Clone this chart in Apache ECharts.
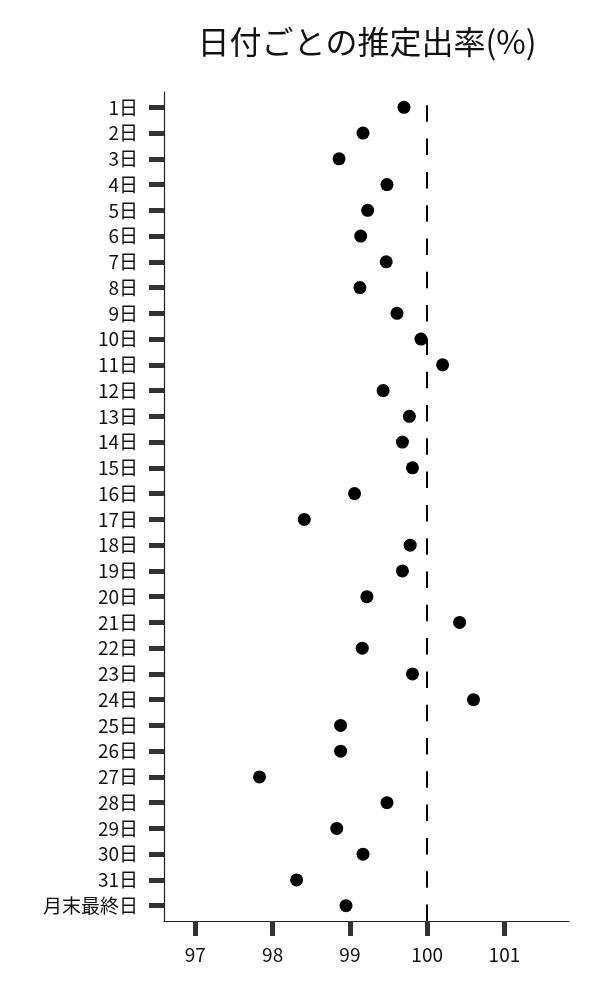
<!DOCTYPE html>
<html>
<head>
<meta charset="utf-8">
<script src="https://cdn.jsdelivr.net/npm/echarts@6/dist/echarts.min.js"></script>
<style>
html,body{margin:0;padding:0;background:#fff;}
#chart{width:600px;height:1000px;}
</style>
</head>
<body>
<div id="chart"></div>
<script>
const titleText = '日付ごとの推定出率(%)';
const categories = ['1日','2日','3日','4日','5日','6日','7日','8日','9日','10日',
  '11日','12日','13日','14日','15日','16日','17日','18日','19日','20日',
  '21日','22日','23日','24日','25日','26日','27日','28日','29日','30日','31日','月末最終日'];
const rates = [99.70, 99.17, 98.86, 99.48, 99.23, 99.14, 99.47, 99.13, 99.61, 99.92,
  100.20, 99.43, 99.77, 99.68, 99.81, 99.06, 98.41, 99.78, 99.68, 99.22,
  100.42, 99.16, 99.81, 100.60, 98.88, 98.88, 97.83, 99.48, 98.83, 99.17, 98.31, 98.95];
const xTicks = [97, 98, 99, 100, 101];
const referenceValue = 100;

const font = '"Noto Sans CJK JP", "Noto Sans", sans-serif';
const xMin = 96.594, xMax = 101.836;
const yMin = -0.594, yMax = categories.length - 1 + 0.594;
const catIdx = categories.map((c, i) => i);

const chart = echarts.init(document.getElementById('chart'), null, {renderer: 'canvas'});
chart.setOption({
  animation: false,
  backgroundColor: '#fff',
  title: {
    text: titleText,
    left: 362,
    top: 21,
    textAlign: 'center',
    textStyle: {fontFamily: font, fontSize: 32, fontWeight: 'normal', color: '#111'}
  },
  grid: {left: 164, right: 31, top: 92, bottom: 79, containLabel: false},
  xAxis: {
    type: 'value',
    min: xMin, max: xMax,
    splitLine: {show: false},
    axisLine: {show: true, onZero: false, lineStyle: {color: '#222', width: 1.2}},
    axisTick: {show: true, customValues: xTicks, length: 15, lineStyle: {color: '#333', width: 5}},
    axisLabel: {customValues: xTicks, margin: 24, fontFamily: font, fontSize: 19, color: '#111',
      formatter: v => String(v)}
  },
  yAxis: {
    type: 'value',
    inverse: true,
    min: yMin, max: yMax,
    splitLine: {show: false},
    axisLine: {show: true, onZero: false, lineStyle: {color: '#222', width: 1.2}},
    axisTick: {show: true, customValues: catIdx, length: 15, lineStyle: {color: '#333', width: 5}},
    axisLabel: {customValues: catIdx, margin: 26, fontFamily: font, fontSize: 19, color: '#111',
      formatter: v => categories[Math.round(v)]}
  },
  series: [{
    type: 'scatter',
    symbol: 'circle',
    symbolSize: 13,
    itemStyle: {color: '#000', opacity: 1},
    data: rates.map((v, i) => [v, i]),
    markLine: {
      silent: true,
      symbol: 'none',
      label: {show: false},
      lineStyle: {color: '#000', width: 2, type: [16.5, 16.8], opacity: 1},
      data: [[{coord: [referenceValue, yMax]}, {coord: [referenceValue, yMin]}]]
    },
    z: 3
  }]
});
</script>
</body>
</html>
